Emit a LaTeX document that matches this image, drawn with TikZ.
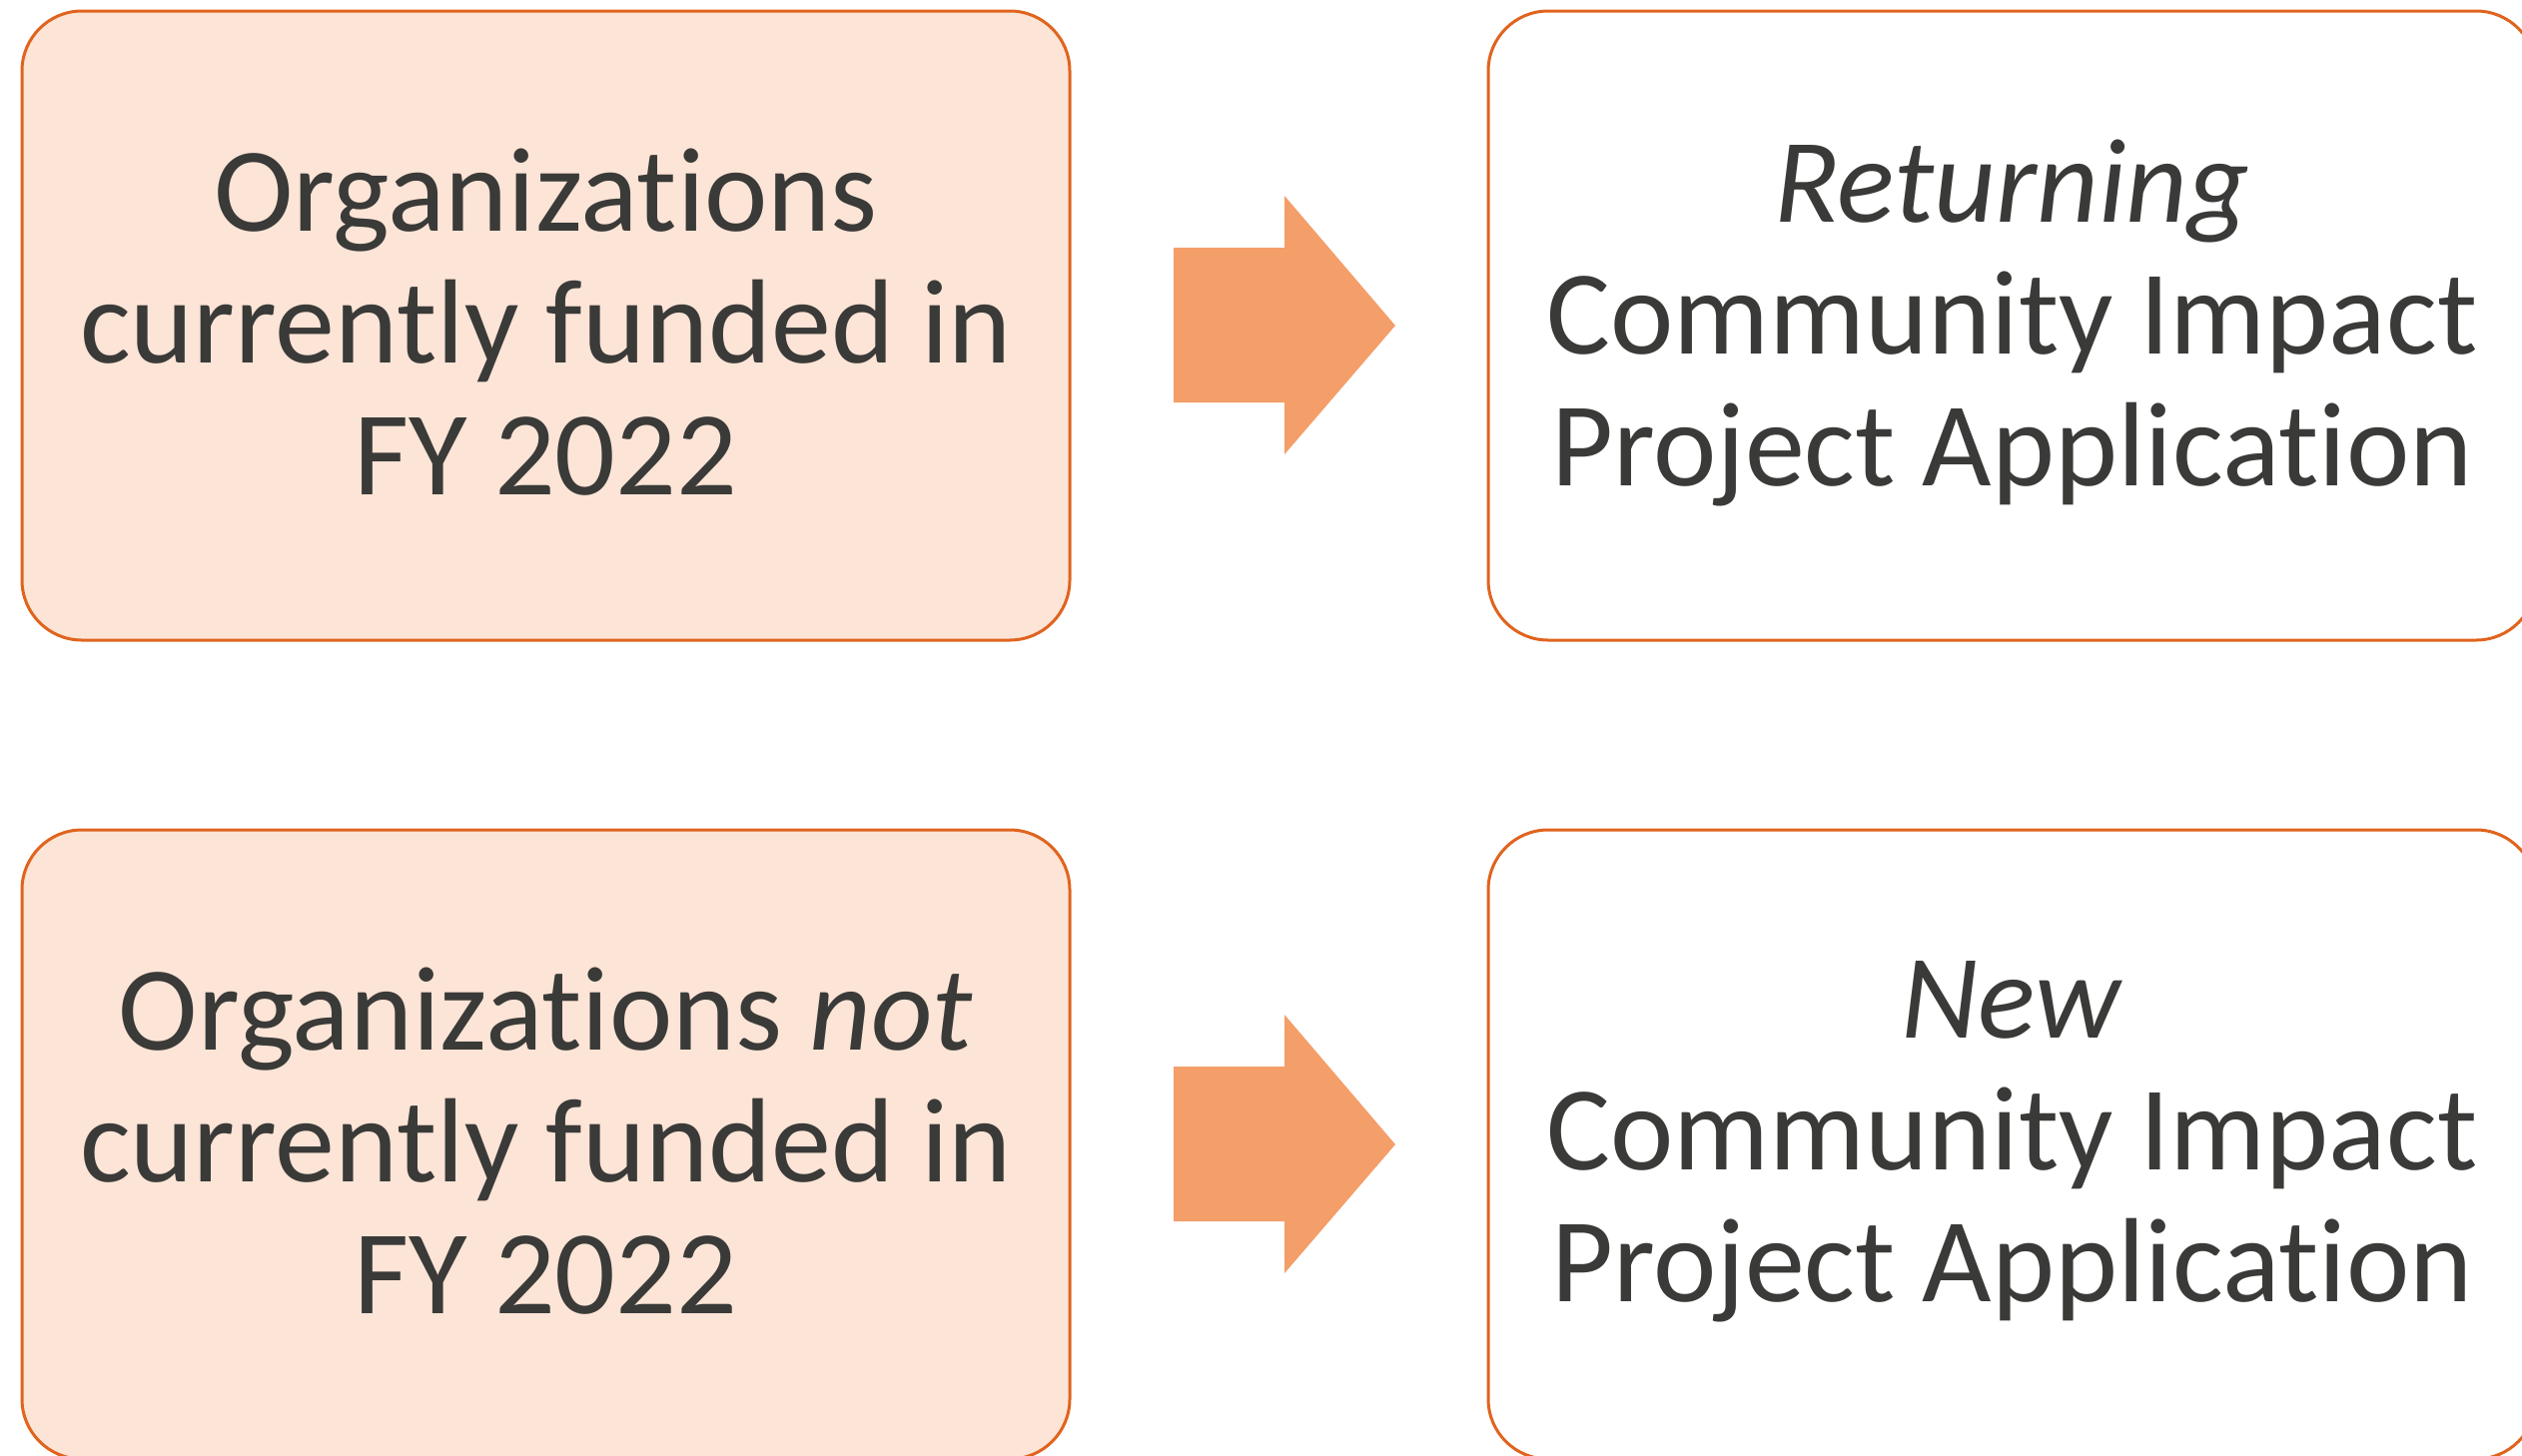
\documentclass[tikz,border=0pt]{standalone}
\usepackage{fontspec}
\setmainfont{Carlito}[Ligatures={NoCommon}]
\definecolor{boxfill}{HTML}{FCE4D6}
\definecolor{boxline}{HTML}{E0641E}
\definecolor{arrowfill}{HTML}{F49E6A}
\definecolor{txt}{HTML}{3A3A38}
\begin{document}
\begin{tikzpicture}[x=0.5pt,y=-0.5pt,
  box/.style={draw=boxline, line width=1.5pt, rounded corners=30pt,
    minimum width=524.5pt, minimum height=315pt, inner sep=0pt},
  peachbox/.style={box, fill=boxfill},
  whitebox/.style={box, fill=white},
  boxtext/.style={inner sep=0pt, align=center, text=txt,
    font=\fontsize{60}{66}\selectfont},
  blockarrow/.style={fill=arrowfill}]
\useasboundingbox (0,0) rectangle (2525,1457);
\clip (0,0) rectangle (2525,1457);
\node[peachbox] (a) at (546.5,326) {};
\node[whitebox] (b) at (2014.5,326) {};
\node[peachbox] (c) at (546.5,1146) {};
\node[whitebox] (d) at (2014.5,1146) {};
\node[boxtext] (at) at ([yshift=1.5pt]a.center) {Organizations\\currently funded in\\FY 2022};
\node[boxtext] (bt) at ([yshift=1.5pt]b.center) {\textit{Returning}\\Community Impact\\Project Application};
\node[boxtext] (ct) at ([yshift=1.5pt]c.center) {Organizations \textit{not}\\currently funded in\\FY 2022};
\node[boxtext] (dt) at ([yshift=1.5pt]d.center) {\textit{New}\\Community Impact\\Project Application};
\foreach \dy in {0,820} {
  \fill[blockarrow] (1175,248+\dy) -- (1286,248+\dy) -- (1286,196+\dy) -- (1397,326+\dy)
    -- (1286,455+\dy) -- (1286,403+\dy) -- (1175,403+\dy) -- cycle;
}
\end{tikzpicture}
\end{document}
